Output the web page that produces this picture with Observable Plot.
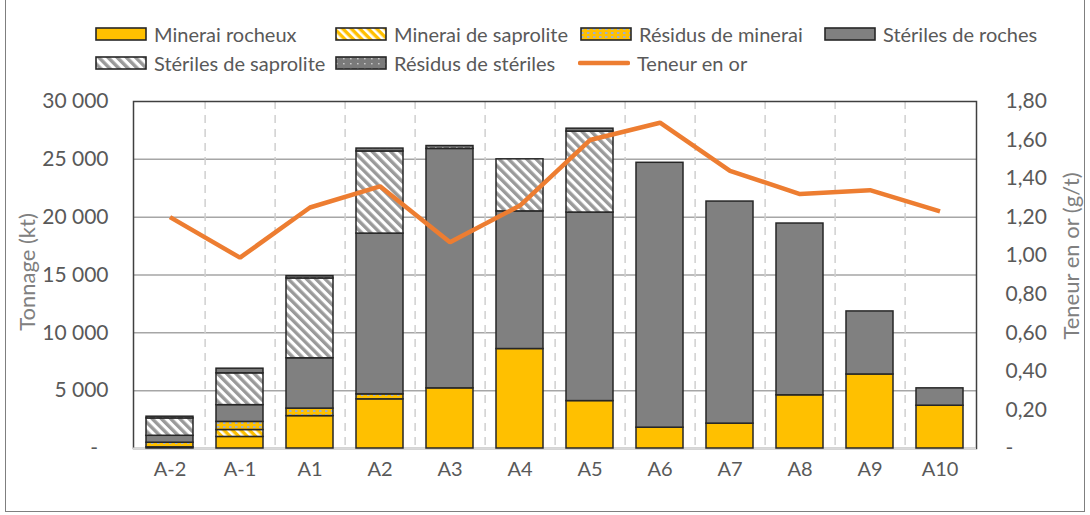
<!DOCTYPE html>
<html>
<head>
<meta charset="utf-8">
<script src="https://cdn.jsdelivr.net/npm/d3@7"></script>
<script src="https://cdn.jsdelivr.net/npm/@observablehq/plot@0.6"></script>
<style>
  html, body { margin: 0; padding: 0; background: #fff; }
  #wrap { position: relative; width: 1090px; height: 515px; overflow: hidden; font-family: Lato, "Open Sans", sans-serif; }
  #border { position: absolute; left: 5px; top: -2px; width: 1080px; height: 514px; border: 1.5px solid #7f7f7f; box-sizing: border-box; pointer-events: none; }
  #legend { position: relative; height: 85px; }
  .item { position: absolute; display: flex; align-items: center; gap: 7px; height: 24px; font-size: 20px; color: #595959; white-space: nowrap; }
  .item svg { display: block; }
</style>
</head>
<body>
<svg width="0" height="0" style="position:absolute">
  <defs>
    <pattern id="p-sapmin" patternUnits="userSpaceOnUse" width="6" height="6" patternTransform="rotate(-45)">
      <rect width="6" height="6" fill="#FFC000"/>
      <rect width="2.6" height="6" fill="#ffffff"/>
    </pattern>
    <pattern id="p-sapste" patternUnits="userSpaceOnUse" width="6.5" height="6.5" patternTransform="rotate(-45)">
      <rect width="6.5" height="6.5" fill="#ffffff"/>
      <rect width="3.4" height="6.5" fill="#9a9a9a"/>
    </pattern>
    <pattern id="p-resmin" patternUnits="userSpaceOnUse" width="6" height="4">
      <rect width="6" height="4" fill="#FFC000"/>
      <rect x="1" y="1" width="2.5" height="2" fill="#9fb0c8"/>
    </pattern>
    <pattern id="p-resste" patternUnits="userSpaceOnUse" width="7" height="5">
      <rect width="7" height="5" fill="#7a7a7a"/>
      <rect x="1" y="2" width="1.6" height="1.4" fill="#c8c8c8"/>
    </pattern>
  </defs>
</svg>
<div id="wrap">
  <div id="legend"></div>
  <div id="chart"></div>
  <div id="border"></div>
</div>
<script>
// ---- Data ----
const categories = ["A-2", "A-1", "A1", "A2", "A3", "A4", "A5", "A6", "A7", "A8", "A9", "A10"];
const seriesNames = ["Minerai rocheux", "Minerai de saprolite", "Résidus de minerai", "Stériles de roches", "Stériles de saprolite", "Résidus de stériles"];
const mineraiRocheux     = [100, 1000, 2800, 4250, 5200, 8600, 4100, 1800, 2150, 4600, 6400, 3700];
const mineraiSaprolite   = [0, 600, 0, 0, 0, 0, 0, 0, 0, 0, 0, 0];
const residusMinerai     = [400, 700, 650, 430, 0, 0, 0, 0, 0, 0, 0, 0];
const sterilesRoches     = [600, 1450, 4350, 13900, 20700, 11900, 16300, 22900, 19200, 14850, 5450, 1500];
const sterilesSaprolite  = [1500, 2750, 6900, 7100, 0, 4500, 7000, 0, 0, 0, 0, 0];
const residusSteriles    = [150, 400, 200, 250, 250, 0, 250, 0, 0, 0, 0, 0];
const teneurOr           = [1.20, 0.99, 1.25, 1.36, 1.07, 1.26, 1.60, 1.69, 1.44, 1.32, 1.34, 1.23];
const leftTicks  = [0, 5000, 10000, 15000, 20000, 25000, 30000];
const rightTicks = [0, 0.2, 0.4, 0.6, 0.8, 1.0, 1.2, 1.4, 1.6, 1.8];
const lineName = "Teneur en or";
const leftTitle = "Tonnage (kt)";
const rightTitle = "Teneur en or (g/t)";

// ---- Styles ----
const fills = ["#FFC000", "url(#p-sapmin)", "url(#p-resmin)", "#808080", "url(#p-sapste)", "url(#p-resste)"];
const seriesValues = [mineraiRocheux, mineraiSaprolite, residusMinerai, sterilesRoches, sterilesSaprolite, residusSteriles];

const rows = [];
seriesNames.forEach((s, i) => seriesValues[i].forEach((v, j) => {
  if (v > 0) rows.push({cat: categories[j], serie: s, value: v});
}));
const gradeRows = categories.map((c, j) => ({cat: c, grade: teneurOr[j]}));

const W = 1090, H = 430, mL = 133, mR = 114, mT = 16, mB = 67;
const yMax = 30000, gMax = 1.8, k = yMax / gMax;
const step = (W - mL - mR) / categories.length;

const fmtLeft = d => d === 0 ? "-\u2002" : d3.format(",")(d).replace(/,/g, " ");
const fmtRight = d => { const g = d / k; return Math.abs(g) < 1e-9 ? "-" : g.toFixed(2).replace(".", ","); };

const chart = Plot.plot({
  width: W, height: H,
  marginLeft: mL, marginRight: mR, marginTop: mT, marginBottom: mB,
  style: {fontFamily: "Lato, 'Open Sans', sans-serif", fontSize: "20px", color: "#595959", background: "transparent"},
  x: {domain: categories, paddingInner: 0.33, paddingOuter: 0.165, align: 0.5, label: null},
  y: {domain: [0, yMax], label: null},
  color: {type: "ordinal", domain: seriesNames, range: fills},
  marks: [
    Plot.ruleY(leftTicks.filter(d => d > 0 && d < yMax), {stroke: "#a6a6a6", strokeWidth: 1.5}),
    Plot.ruleX(categories.slice(0, -1), {dx: step / 2, stroke: "#d0d0d0", strokeWidth: 1.5, strokeDasharray: "8,6"}),
    Plot.frame({stroke: "#404040", strokeWidth: 1.5}),
    Plot.ruleY([0], {stroke: "#d9d9d9", strokeWidth: 2}),
    Plot.barY(rows, {x: "cat", y: "value", fill: "serie", order: seriesNames, stroke: "#262626", strokeWidth: 1.5}),
    Plot.line(gradeRows, {x: "cat", y: d => d.grade * k, stroke: "#ED7D31", strokeWidth: 4.5, strokeLinejoin: "miter", strokeLinecap: "butt"}),
    Plot.axisX({tickSize: 0, tickPadding: 13, fontSize: 20, label: null}),
    Plot.axisY(leftTicks, {anchor: "left", tickSize: 0, tickPadding: 25, tickFormat: fmtLeft, fontSize: 21, label: null}),
    Plot.axisY(rightTicks.map(g => g * k), {anchor: "right", tickSize: 0, tickPadding: 29, tickFormat: fmtRight, fontSize: 21, label: null}),
    Plot.text([leftTitle], {frameAnchor: "left", textAnchor: "middle", rotate: -90, dx: -106, dy: -3, fontSize: 22, fill: "#808080"}),
    Plot.text([rightTitle], {frameAnchor: "right", textAnchor: "middle", rotate: -90, dx: 95, dy: -19, fontSize: 22, fill: "#808080"})
  ]
});
document.getElementById("chart").appendChild(chart);

// ---- Legend ----
const legend = document.getElementById("legend");
const legendItems = [
  {name: seriesNames[0], fill: fills[0], left: 95, top: 22},
  {name: seriesNames[1], fill: fills[1], left: 335, top: 22},
  {name: seriesNames[2], fill: fills[2], left: 580, top: 22},
  {name: seriesNames[3], fill: fills[3], left: 824, top: 22},
  {name: seriesNames[4], fill: fills[4], left: 95, top: 51},
  {name: seriesNames[5], fill: fills[5], left: 335, top: 51},
  {name: lineName, line: "#ED7D31", left: 578, top: 51}
];
legendItems.forEach(it => {
  const div = document.createElement("div");
  div.className = "item";
  div.style.left = it.left + "px";
  div.style.top = it.top + "px";
  const sw = it.line
    ? `<svg width="52" height="14"><line x1="2" y1="7" x2="50" y2="7" stroke="${it.line}" stroke-width="4.5" stroke-linecap="round"/></svg>`
    : `<svg width="52" height="14"><rect x="1" y="1" width="50" height="12" fill="${it.fill}" stroke="#262626" stroke-width="1.6"/></svg>`;
  div.innerHTML = sw + `<span>${it.name}</span>`;
  legend.appendChild(div);
});
</script>
</body>
</html>
